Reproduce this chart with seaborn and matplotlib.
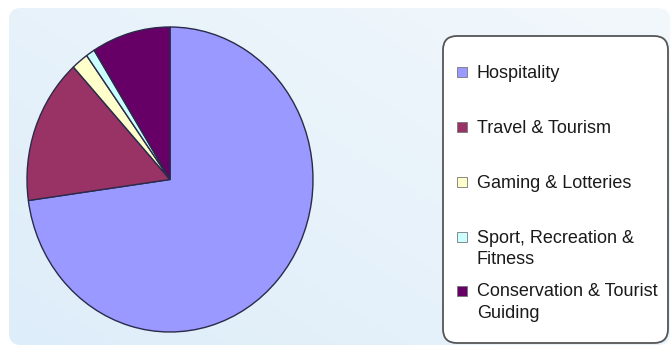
import numpy as np
import matplotlib
matplotlib.use("Agg")
import matplotlib.pyplot as plt
from matplotlib.patches import FancyBboxPatch, Rectangle
import seaborn as sns

categories = ["Hospitality", "Travel & Tourism", "Gaming & Lotteries",
              "Sport, Recreation &\nFitness", "Conservation & Tourist\nGuiding"]
values = [72.8, 15.4, 1.9, 1.0, 8.9]
colors = ["#9999FF", "#993366", "#FFFFCC", "#CCFFFF", "#660066"]

sns.set_theme(style="white")
plt.rcParams['font.family'] = ['Liberation Sans', 'DejaVu Sans']

W, H = 670, 347
fig = plt.figure(figsize=(W / 100, H / 100), dpi=100)
fig.patch.set_facecolor("white")

# background panel with gradient
bg = fig.add_axes([0, 0, 1, 1])
bg.set_xlim(0, W)
bg.set_ylim(H, 0)
bg.axis("off")
gx = np.linspace(0, 1, 200)
gy = np.linspace(0, 1, 200)
GX, GY = np.meshgrid(gx, gy)
t = np.clip(0.55 * GX + 0.45 * (1 - GY), 0, 1)
c0 = np.array([221, 237, 249]) / 255
c1 = np.array([243, 248, 252]) / 255
img = c0[None, None, :] * (1 - t[..., None]) + c1[None, None, :] * t[..., None]
panel = FancyBboxPatch((9, 8), W - 9, H - 10, boxstyle="round,pad=0,rounding_size=12",
                       facecolor="none", edgecolor="none", transform=bg.transData)
bg.add_patch(panel)
im = bg.imshow(img, extent=[9, W, H - 2, 8], aspect="auto", zorder=0)
im.set_clip_path(panel)

# pie
ax = fig.add_axes([27 / W, (H - 332) / H, 286 / W, 305 / H])
ax.pie(values, colors=colors, startangle=90, counterclock=False,
       wedgeprops=dict(edgecolor="#2A2A4A", linewidth=1.0))
ax.set_aspect("auto")
ax.set_xlim(-1.0, 1.0)
ax.set_ylim(-1.0, 1.0)
ax.axis("off")

# legend box
lg = FancyBboxPatch((443, 36), 225, 307, boxstyle="round,pad=0,rounding_size=14",
                    facecolor="white", edgecolor="#555555", linewidth=1.3,
                    transform=bg.transData, zorder=2)
bg.add_patch(lg)
row_y = [72, 127, 182, 237, 291]
for lab, col, y in zip(categories, colors, row_y):
    bg.add_patch(Rectangle((457, y - 5), 10, 10, facecolor=col, edgecolor="#777777",
                           linewidth=0.6, zorder=3))
    bg.text(477, y - 7.5, lab, fontsize=13, color="#1a1a1a", va="top", ha="left",
            linespacing=1.32, zorder=3)

fig.savefig("out.png", dpi=100)
